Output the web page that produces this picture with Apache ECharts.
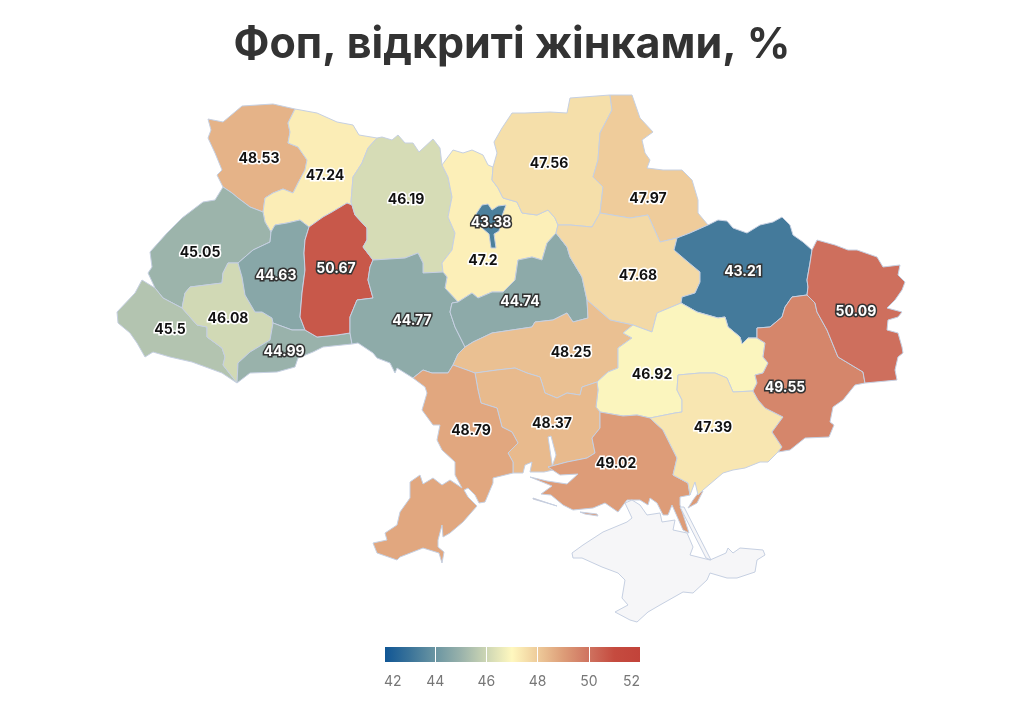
<!DOCTYPE html>
<html>
<head>
<meta charset="utf-8">
<script src="https://cdn.jsdelivr.net/npm/echarts@6/dist/echarts.min.js"></script>
<style>html,body{margin:0;padding:0;background:#fff}#c{width:1024px;height:711px}</style>
</head>
<body>
<div id="c"></div>
<script>
// ---- data ----
const chartTitle = 'Фоп, відкриті жінками, %';
const regionNames = ['Волинська','Рівненська','Львівська','Закарпатська','Івано-Франківська','Тернопільська','Чернівецька','Хмельницька','Житомирська','Київська','Вінницька','Черкаська','Чернігівська','Сумська','Полтавська','Харківська','Кіровоградська','Дніпропетровська','Миколаївська','Одеська','Херсонська','Запорізька','Донецька','Луганська','Київ'];
const regionValues = [48.53,47.24,45.05,45.5,46.08,44.63,44.99,50.67,46.19,47.2,44.77,44.74,47.56,47.97,47.68,43.21,48.25,46.92,48.37,48.79,49.02,47.39,49.55,50.09,43.38];
const scaleMin = 42, scaleMax = 52, scaleStep = 2;
const scaleColors = ['#0f5595','#3a7399','#6a95a2','#99b2ab','#cdd6b4','#fff8bf','#eecb9a','#dd9d78','#cf7360','#c54b3f','#c2433a'];
const invertedLabelRegions = ['Київ','Харківська','Тернопільська','Черкаська','Вінницька','Чернівецька','Хмельницька','Луганська','Донецька'];

// ---- map outline asset (hand traced borders) ----
const arcs = {
 VR:[[295,109],[288,123],[290,132],[288,143],[298,147],[307,160],[305,170],[298,183],[293,193],[283,189],[273,193],[265,198],[263,212]],
 VL:[[263,212],[250,207],[238,198],[232,193],[223,187]],
 V_out:[[223,187],[217,175],[222,170],[215,153],[208,138],[211,130],[208,119],[223,122],[242,106],[273,104],[295,109]],
 R_top:[[295,109],[317,113],[337,122],[353,125],[359,135],[377,138]],
 RZ:[[377,138],[368,148],[362,163],[353,177],[351,202],[352,205]],
 RK:[[352,205],[347,203],[332,212],[323,217],[309,227]],
 RT:[[309,227],[300,220],[287,223],[275,225],[271,232]],
 RL:[[271,232],[265,222],[263,212]],
 L_out:[[223,187],[215,200],[203,202],[182,218],[167,233],[150,252],[152,267],[148,273],[155,288]],
 LZ:[[155,288],[163,298],[182,308]],
 LI:[[182,308],[185,293],[190,287],[222,283],[223,273],[228,263],[238,263]],
 LT:[[238,263],[253,250],[270,242],[271,232]],
 Z_out:[[155,288],[142,280],[135,293],[117,312],[118,323],[130,333],[137,343],[145,357],[153,352],[170,357],[192,362],[222,373],[237,383]],
 ZI:[[182,308],[197,325],[207,327],[207,337],[222,348],[225,357],[223,365],[237,383]],
 IC:[[237,383],[238,363],[250,352],[270,340],[273,323]],
 TI:[[273,323],[272,318],[262,312],[255,312],[245,295],[242,277],[238,263]],
 TK:[[309,227],[305,240],[304,253],[305,270],[302,293],[300,317],[305,330]],
 TC:[[305,330],[292,330],[273,323]],
 C_out:[[237,383],[250,373],[277,372],[295,367],[298,358],[313,352],[323,347],[352,344]],
 CK:[[305,330],[317,337],[337,335],[350,333]],
 CV:[[350,333],[352,344]],
 KZ:[[352,205],[355,215],[367,228],[367,240],[363,247],[373,260]],
 KV:[[373,260],[370,267],[368,280],[373,298],[357,300],[350,317],[350,333]],
 Zh_top:[[377,138],[382,137],[392,140],[398,135],[405,143],[413,143],[419,152],[433,139],[440,148],[442,165]],
 ZhK:[[442,165],[448,177],[452,197],[448,217],[455,233],[452,250],[442,263],[443,272]],
 ZhV:[[443,272],[423,273],[423,263],[418,253],[405,258],[373,260]],
 Ky_top:[[442,165],[453,150],[463,153],[472,150],[483,155],[488,165],[493,167]],
 KyCh:[[493,167],[492,180],[498,188],[503,198],[517,202],[522,213],[537,215],[548,210],[555,218],[558,225]],
 KyP:[[558,225],[556,233]],
 KyCk:[[556,233],[547,243],[542,260],[532,257],[518,260],[515,280],[503,292],[492,292],[478,298],[472,293],[458,302]],
 KyV:[[458,302],[445,288],[447,277],[443,272]],
 VCk:[[458,302],[452,303],[450,312],[455,327],[465,347]],
 VKir:[[465,347],[458,354],[453,365]],
 VO:[[453,365],[448,373],[432,373],[423,370],[413,378]],
 Vn_out:[[413,378],[397,368],[395,373],[390,363],[377,358],[373,353],[358,343],[352,344]],
 CkKir:[[465,347],[473,342],[492,333],[532,327],[535,322],[553,320],[567,313],[573,322],[588,318],[587,300]],
 CkP:[[587,300],[582,277],[570,257],[567,247],[556,233]],
 Ch_top:[[493,167],[497,153],[494,142],[502,128],[512,113],[525,113],[550,112],[567,113],[570,98],[610,95]],
 ChS:[[610,95],[612,110],[600,133],[598,160],[593,177],[603,187],[600,213]],
 ChP:[[600,213],[592,227],[570,225],[558,225]],
 S_top:[[610,95],[632,95],[640,118],[653,132],[642,140],[645,153],[650,160],[647,168],[663,170],[682,170],[692,180],[698,200],[698,213],[708,225]],
 SKh:[[677,238],[690,233],[708,225]],
 SP:[[677,238],[660,242],[648,215],[630,218],[600,213]],
 PKh:[[677,238],[674,250],[688,262],[700,272],[700,282],[695,293],[682,297],[681,303]],
 PD:[[681,303],[657,313],[652,332],[633,325]],
 PKir:[[587,300],[610,320],[633,325]],
 KirD:[[633,325],[623,333],[632,338],[618,348],[618,368],[608,372],[597,382]],
 KirM:[[597,382],[582,387],[580,395],[567,393],[557,398],[545,393],[542,383],[540,377],[527,373],[515,368],[497,370],[475,373]],
 KirO:[[475,373],[467,370],[453,365]],
 MO:[[475,373],[478,390],[481,403],[497,408],[502,427],[512,432],[518,443],[508,453],[513,462],[513,473]],
 M_coast:[[513,473],[523,473],[525,465],[532,462],[530,472],[544,472],[553,470],[548,437],[551,436],[556,455],[552,467],[548,467]],
 MKhe:[[548,467],[567,462],[587,458],[595,453],[592,438],[600,428],[600,412]],
 MD:[[600,412],[596,407],[598,390],[597,382]],
 O_out:[[413,378],[425,387],[427,393],[422,410],[433,425],[440,425],[437,440],[442,450],[455,462],[455,475],[462,488],[450,480],[442,485],[433,478],[423,484],[420,475],[410,482],[410,498],[400,512],[397,525],[385,533],[387,540],[373,543],[377,553],[397,560],[400,557],[423,548],[439,553],[442,563],[444,552],[438,547],[438,540],[442,525],[443,537],[450,533],[463,522],[477,506],[468,497],[464,490],[468,488],[475,495],[479,503],[485,502],[493,483],[493,478],[513,473]],
 Khe_coast:[[548,467],[560,475],[578,474],[567,484],[547,481],[530,477],[552,486],[541,494],[551,495],[563,505],[573,510],[593,508],[605,503],[618,512],[627,500],[640,500],[648,505],[650,498],[657,503],[663,515],[668,515],[672,505],[683,530],[689,533],[680,505],[680,497],[690,495]],
 KheZ:[[690,495],[688,483],[673,475],[677,458],[663,430],[650,418]],
 KheD:[[650,418],[637,415],[623,416],[600,412]],
 DZ:[[650,418],[675,413],[682,412],[682,400],[677,390],[678,375],[700,373],[715,373],[727,378],[733,392],[753,391]],
 ZDon:[[753,391],[758,400],[765,408],[783,417],[772,432],[782,447],[778,452]],
 Z_coast:[[778,452],[768,462],[760,462],[745,468],[733,470],[723,473],[703,490],[698,495],[695,482],[690,495]],
 DDon:[[757,338],[765,343],[763,357],[768,363],[763,373],[755,375],[757,383],[753,391]],
 DKh:[[681,303],[697,312],[718,318],[725,317],[728,327],[740,337],[742,344],[748,338],[757,338]],
 KhDon:[[757,338],[757,328],[770,327],[782,317],[785,307],[792,297],[807,295]],
 KhLu:[[807,295],[808,287],[807,280],[810,263],[812,250]],
 Kh_top:[[708,225],[718,220],[727,221],[733,228],[747,233],[760,225],[773,222],[782,217],[790,225],[793,235],[803,242],[812,250]],
 Lu_out:[[812,250],[817,240],[835,245],[848,250],[857,250],[877,257],[883,267],[900,265],[898,275],[905,282],[902,290],[895,300],[887,308],[902,312],[898,317],[888,320],[887,330],[898,333],[902,347],[903,353],[898,357],[895,370],[897,380],[865,383]],
 LuDon:[[865,383],[863,372],[838,357],[827,330],[817,312],[815,303],[807,295]],
 Don_out:[[865,383],[855,385],[843,400],[833,407],[830,422],[834,425],[829,437],[805,438],[790,450],[778,452]]
};
const regionRings = {
 'Волинська':['VR','VL','V_out'],
 'Рівненська':['R_top','RZ','RK','RT','RL','-VR'],
 'Львівська':['L_out','LZ','LI','LT','RL','VL'],
 'Закарпатська':['Z_out','-ZI','-LZ'],
 'Івано-Франківська':['LI','-TI','-IC','-ZI'],
 'Тернопільська':['RT','-LT','-TI','-TC','-TK'],
 'Чернівецька':['C_out','-CV','-CK','TC','-IC'],
 'Хмельницька':['TK','CK','-KV','-KZ','RK'],
 'Житомирська':['Zh_top','ZhK','ZhV','-KZ','-RZ'],
 'Київська':['Ky_top','KyCh','KyP','KyCk','KyV','-ZhK'],
 'Вінницька':['KV','CV','-Vn_out','-VO','-VKir','-VCk','KyV','ZhV'],
 'Черкаська':['KyCk','VCk','CkKir','CkP'],
 'Чернігівська':['Ch_top','ChS','ChP','-KyCh'],
 'Сумська':['S_top','-SKh','SP','-ChS'],
 'Полтавська':['-SP','PKh','PD','-PKir','CkP','-KyP','-ChP'],
 'Харківська':['SKh','Kh_top','-KhLu','-KhDon','-DKh','-PKh'],
 'Кіровоградська':['PKir','KirD','KirM','KirO','-VKir','CkKir'],
 'Дніпропетровська':['DKh','DDon','-DZ','KheD','MD','-KirD','-PD'],
 'Миколаївська':['KirM','MO','M_coast','MKhe','MD'],
 'Одеська':['O_out','-MO','KirO','VO'],
 'Херсонська':['Khe_coast','KheZ','KheD','-MKhe'],
 'Запорізька':['DZ','ZDon','Z_coast','KheZ'],
 'Донецька':['KhDon','-LuDon','Don_out','-ZDon','-DDon'],
 'Луганська':['KhLu','Lu_out','LuDon']
};
const extraShapes = {
 'Київ':[[[476,214],[482,205],[488,204],[492,210],[498,206],[506,205],[502,216],[499,231],[494,234],[496,248],[491,248],[489,234],[482,228],[476,214]]],
 'Херсонська':[[[533,498],[557,506],[556,507],[533,499],[533,498]],[[580,512],[597,514],[598,516],[585,514],[580,512]],[[688,508],[697,503],[703,491],[699,492],[693,500],[688,508]]],
 'Крим':[[[572,553],[583,545],[603,532],[627,522],[632,518],[625,503],[632,500],[640,505],[647,515],[660,513],[662,522],[675,520],[673,530],[687,533],[693,547],[690,555],[710,560],[726,553],[728,548],[733,553],[740,548],[763,550],[765,555],[757,560],[755,572],[737,578],[727,578],[710,573],[707,580],[693,593],[683,592],[660,605],[648,612],[637,622],[630,620],[615,612],[628,605],[622,598],[625,580],[618,573],[602,567],[582,558],[573,558],[572,553]],
        [[680,507],[684,507],[711,560],[706,558],[680,507]]]
};
const labelAnchors = {
 'Волинська':[259,159],'Рівненська':[325,176],'Львівська':[200,253],'Закарпатська':[170,330],'Івано-Франківська':[228,319],'Тернопільська':[276,276],'Чернівецька':[284,352],'Хмельницька':[336,269],'Житомирська':[406,200],'Київська':[483,261],'Вінницька':[412,321],'Черкаська':[520,302],'Чернігівська':[549,164],'Сумська':[648,199],'Полтавська':[638,276],'Харківська':[743,272],'Кіровоградська':[571,353],'Дніпропетровська':[652,375],'Миколаївська':[552,424],'Одеська':[471,431],'Херсонська':[616,464],'Запорізька':[713,428],'Донецька':[785,388],'Луганська':[856,312],'Київ':[491,223],'Крим':[660,560]
};

// ---- build map ----
const flip = p => [p[0], 711 - p[1]];
function ringOf(list){
  const out = [];
  list.forEach(id => {
    const rev = id[0] === '-';
    const a = arcs[rev ? id.slice(1) : id];
    (rev ? a.slice().reverse() : a).forEach(p => out.push(flip(p)));
  });
  out.push(out[0]);
  return out;
}
const features = [];
Object.keys(regionRings).concat(['Київ','Крим']).forEach(name => {
  const polys = [];
  if (regionRings[name]) polys.push([ringOf(regionRings[name])]);
  (extraShapes[name] || []).forEach(r => polys.push([r.map(flip)]));
  features.push({type:'Feature',properties:{name:name,cp:flip(labelAnchors[name])},geometry:{type:'MultiPolygon',coordinates:polys}});
});
echarts.registerMap('ukraine',{type:'FeatureCollection',features:features});

const chart = echarts.init(document.getElementById('c'));
const FONT = 'Inter, "Noto Sans", sans-serif';
const seriesData = regionNames.map((n,i) => {
  const inv = invertedLabelRegions.indexOf(n) >= 0;
  return {name:n,value:regionValues[i],label:{color:inv?'#fff':'#111',textBorderColor:inv?'#333':'#fff',textBorderWidth:3}};
});
const legendGradient = new echarts.graphic.LinearGradient(0,0,1,0,
  scaleColors.map((c,i) => ({offset:i/(scaleColors.length-1),color:c})));
chart.setOption({
  animation:false,
  backgroundColor:'#fff',
  title:{text:chartTitle,left:'center',top:19,textStyle:{fontFamily:FONT,fontSize:43,fontWeight:700,color:'#333'}},
  tooltip:{show:false},
  visualMap:{type:'continuous',show:false,min:scaleMin,max:scaleMax,inRange:{color:scaleColors},seriesIndex:0},
  grid:{left:384,top:647,width:256,height:15,containLabel:false},
  xAxis:{type:'value',min:scaleMin,max:scaleMax,interval:scaleStep,z:20,
    axisLine:{show:false},axisTick:{show:false},
    splitLine:{show:true,lineStyle:{color:'#fff',width:1}},
    axisLabel:{show:true,margin:13,fontFamily:FONT,fontSize:14,color:'#777',alignMinLabel:'left',alignMaxLabel:'right'}},
  yAxis:{type:'category',show:false,data:['scale']},
  series:[{
    type:'map',map:'ukraine',roam:false,selectedMode:false,silent:true,
    aspectScale:1,boundingCoords:[[0,711],[1024,0]],layoutCenter:['50%','50%'],layoutSize:1024,
    itemStyle:{areaColor:'#f6f6f8',borderColor:'#c6d0e2',borderWidth:1},
    emphasis:{disabled:true},
    label:{show:true,fontFamily:FONT,fontSize:14,fontWeight:700,
      formatter:p => isNaN(p.value) ? '' : String(p.value)},
    data:seriesData
  },{
    type:'bar',silent:true,barWidth:15,z:1,data:[scaleMax],
    itemStyle:{color:legendGradient},label:{show:false}
  }]
});
</script>
</body>
</html>
